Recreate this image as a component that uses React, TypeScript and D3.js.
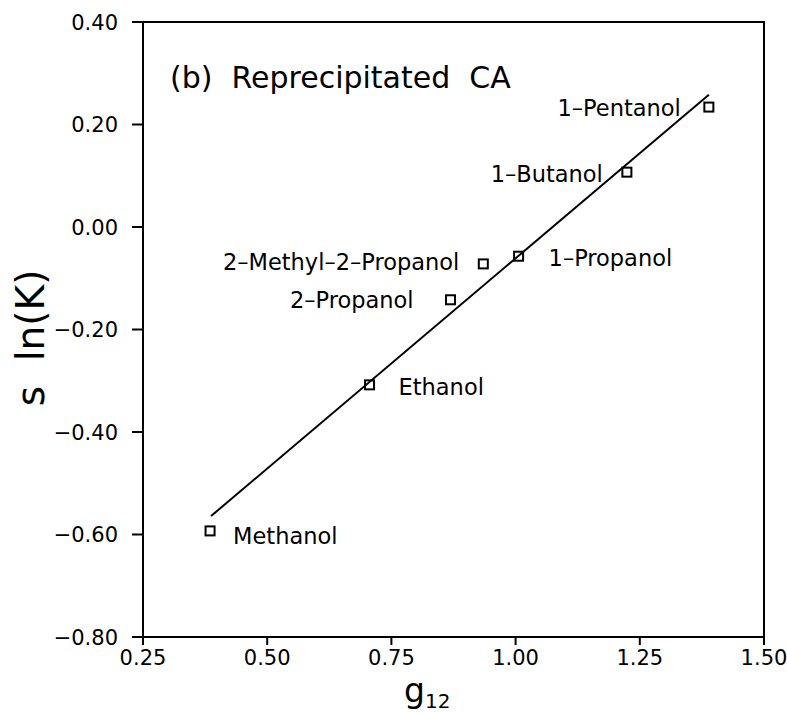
import React from "react";
import * as d3 from "d3";

const solvents = ["Methanol", "Ethanol", "2-Propanol", "2-Methyl-2-Propanol", "1-Propanol", "1-Butanol", "1-Pentanol"];
const labelText = ["Methanol", "Ethanol", "2\u2013Propanol", "2\u2013Methyl\u20132\u2013Propanol", "1\u2013Propanol", "1\u2013Butanol", "1\u2013Pentanol"];
const g12 = [0.385, 0.706, 0.869, 0.935, 1.006, 1.224, 1.389];
const slnK = [-0.593, -0.308, -0.142, -0.072, -0.057, 0.107, 0.234];
const fitX = [0.387, 1.389];
const fitY = [-0.564, 0.258];
const xTicks = [0.25, 0.5, 0.75, 1.0, 1.25, 1.5];
const yTicks = [0.4, 0.2, 0.0, -0.2, -0.4, -0.6, -0.8];

// label layout (pixels relative to marker)
const labelDx = [23, 29, -37, -24, 30, -24, -28];
const labelDy = [5, 2, 0, -2, 2, 2, 1];

const W = 787, H = 713;
const L = 143, R = 764, T = 22, B = 637;
const FONT = "'DejaVu Sans', Verdana, sans-serif";

export default function App() {
  const x = d3.scaleLinear().domain([0.25, 1.5]).range([L, R]);
  const y = d3.scaleLinear().domain([-0.8, 0.4]).range([B, T]);
  const line = d3.line<number>().x((_, i) => x(fitX[i])).y((d) => y(d));
  const fmt = (v: number) => (v < 0 ? "\u2212" : "") + Math.abs(v).toFixed(2);
  return (
    <svg width={W} height={H} style={{ position: "absolute", left: 0, top: 0, background: "#fff" }}>
      <rect x={L} y={T} width={R - L} height={B - T} fill="none" stroke="#000" strokeWidth={2} />
      {yTicks.map((t) => (
        <g key={"y" + t}>
          <line x1={L - 11} x2={L} y1={y(t)} y2={y(t)} stroke="#000" strokeWidth={2} />
          <text x={118} y={y(t)} dy="0.36em" textAnchor="end" fontFamily={FONT} fontSize={21}>{fmt(t)}</text>
        </g>
      ))}
      {xTicks.map((t) => (
        <g key={"x" + t}>
          <line x1={x(t)} x2={x(t)} y1={B} y2={B + 8} stroke="#000" strokeWidth={2} />
          <text x={x(t)} y={665} textAnchor="middle" fontFamily={FONT} fontSize={21}>{t.toFixed(2)}</text>
        </g>
      ))}
      <path d={line(fitY) || ""} fill="none" stroke="#000" strokeWidth={2} />
      {solvents.map((s, i) => {
        const cx = x(g12[i]), cy = y(slnK[i]);
        const right = labelDx[i] > 0;
        return (
          <g key={s}>
            <rect x={cx - 4.5} y={cy - 4.5} width={9} height={9} fill="none" stroke="#000" strokeWidth={2} />
            <text x={cx + labelDx[i]} y={cy + labelDy[i]} dy="0.36em" textAnchor={right ? "start" : "end"} fontFamily={FONT} fontSize={22.5}>{labelText[i]}</text>
          </g>
        );
      })}
      <text x={170} y={88} fontFamily={FONT} fontSize={30} style={{ whiteSpace: "pre" }}>{"(b)  Reprecipitated  CA"}</text>
      <text transform={`translate(44,338) rotate(-90)`} textAnchor="middle" fontFamily={FONT} fontSize={39} style={{ whiteSpace: "pre" }}>{"s  ln(K)"}</text>
      <text x={404} y={702} fontFamily={FONT} fontSize={33}>g<tspan fontSize={20} dy={6}>12</tspan></text>
    </svg>
  );
}
